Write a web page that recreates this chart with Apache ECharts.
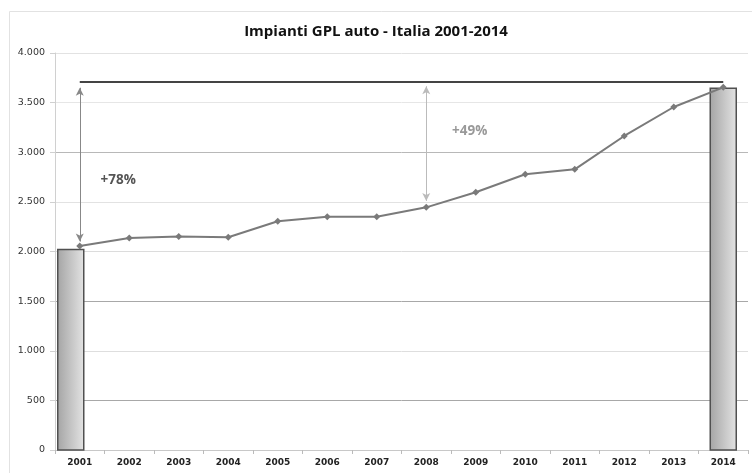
<!DOCTYPE html>
<html>
<head>
<meta charset="utf-8">
<script src="https://cdn.jsdelivr.net/npm/echarts@6/dist/echarts.min.js"></script>
<style>
  html, body { margin: 0; padding: 0; background: #fff; }
  #main { width: 752px; height: 473px; }
</style>
</head>
<body>
<div id="main"></div>
<script>
// dati
var anni = ['2001', '2002', '2003', '2004', '2005', '2006', '2007',
            '2008', '2009', '2010', '2011', '2012', '2013', '2014'];
var impianti = [2055, 2135, 2150, 2143, 2305, 2350, 2350,
                2445, 2597, 2778, 2828, 3164, 3456, 3654];
var barre = [['2001', 2020], ['2014', 3645]];
var livelloMax = 3710;
var freccia78 = [3650, 2100];
var freccia49 = [3665, 2510];
var etichette = [
  {text: '+78%', x: '2002', y: 2720},
  {text: '+49%', x: '2009', y: 3215}
];

var chart = echarts.init(document.getElementById('main'));

function fmt(v) {
  return String(v).replace(/\B(?=(\d{3})+(?!\d))/g, '.');
}

var option = {
  backgroundColor: '#fff',
  animation: false,
  title: {
    text: 'Impianti GPL auto - Italia 2001-2014',
    left: 'center',
    top: 19,
    textStyle: {
      fontFamily: 'Open Sans',
      fontWeight: 'bold',
      fontSize: 15,
      color: '#111'
    }
  },
  graphic: [{
    type: 'rect',
    shape: {x: 9.5, y: 11.5, width: 760, height: 470},
    style: {fill: 'none', stroke: '#e2e2e2', lineWidth: 1},
    silent: true
  }],
  grid: {left: 55, right: 4, top: 53, bottom: 23},
  xAxis: {
    type: 'category',
    data: anni,
    axisLine: {lineStyle: {color: '#c8c8c8'}},
    axisTick: {show: true, length: 4, lineStyle: {color: '#bbb'}},
    axisLabel: {
      color: '#222',
      fontFamily: 'DejaVu Sans',
      fontWeight: 'bold',
      fontSize: 9,
      margin: 8
    }
  },
  yAxis: {
    type: 'value',
    min: 0,
    max: 4000,
    interval: 500,
    axisLine: {show: true, lineStyle: {color: '#d0d0d0'}},
    axisTick: {show: true, length: 5, lineStyle: {color: '#d0d0d0'}},
    axisLabel: {
      color: '#333',
      fontFamily: 'DejaVu Sans',
      fontSize: 9.5,
      margin: 10,
      formatter: fmt
    },
    splitLine: {
      lineStyle: {
        color: ['#c0c0c0', '#a8a8a8', '#dedede', '#a8a8a8', '#dcdcdc',
                '#e2e2e2', '#b8b8b8', '#e6e6e6', '#e2e2e2']
      }
    }
  },
  series: [
    {
      name: 'barre',
      type: 'custom',
      data: barre,
      encode: {x: 0, y: 1},
      z: 1,
      renderItem: function (params, api) {
        var top = api.coord([api.value(0), api.value(1)]);
        var base = api.coord([api.value(0), 0]);
        var w = 26;
        var shift = params.dataIndex === 0 ? -9 : 0;
        return {
          type: 'rect',
          shape: {x: top[0] - w / 2 + shift, y: top[1], width: w, height: base[1] - top[1]},
          style: {
            fill: new echarts.graphic.LinearGradient(0, 0, 1, 0, [
              {offset: 0, color: '#a4a4a4'},
              {offset: 1, color: '#e4e4e4'}
            ]),
            stroke: '#505050',
            lineWidth: 1.5
          }
        };
      }
    },
    {
      name: 'Impianti GPL',
      type: 'line',
      data: impianti,
      z: 3,
      symbol: 'diamond',
      symbolSize: 7,
      lineStyle: {color: '#7a7a7a', width: 2},
      itemStyle: {color: '#7a7a7a'},
      markLine: {
        silent: true,
        animation: false,
        label: {show: false},
        data: [
          [
            {coord: ['2001', livelloMax], symbol: 'none',
              lineStyle: {color: '#444', width: 2, type: 'solid'}},
            {coord: ['2014', livelloMax], symbol: 'none'}
          ],
          [
            {coord: ['2001', freccia78[0]], symbol: 'arrow', symbolSize: [6, 8],
              lineStyle: {color: '#888', width: 1, type: 'solid'}},
            {coord: ['2001', freccia78[1]], symbol: 'arrow', symbolSize: [6, 8]}
          ],
          [
            {coord: ['2008', freccia49[0]], symbol: 'arrow', symbolSize: [6, 8],
              lineStyle: {color: '#bbb', width: 1, type: 'solid'}},
            {coord: ['2008', freccia49[1]], symbol: 'arrow', symbolSize: [6, 8]}
          ]
        ]
      },
      markPoint: {
        silent: true,
        symbol: 'circle',
        symbolSize: 1,
        itemStyle: {color: 'rgba(0,0,0,0)'},
        data: [
          {coord: [etichette[0].x, etichette[0].y], value: etichette[0].text,
            label: {show: true, position: 'inside', formatter: etichette[0].text, offset: [-11, 0],
              color: '#555', fontWeight: 'bold', fontSize: 13.5, fontFamily: 'Open Sans'}},
          {coord: [etichette[1].x, etichette[1].y], value: etichette[1].text,
            label: {show: true, position: 'inside', formatter: etichette[1].text, offset: [-6, 0],
              color: '#999', fontWeight: 'bold', fontSize: 13.5, fontFamily: 'Open Sans'}}
        ]
      }
    }
  ]
};

chart.setOption(option);
</script>
</body>
</html>
